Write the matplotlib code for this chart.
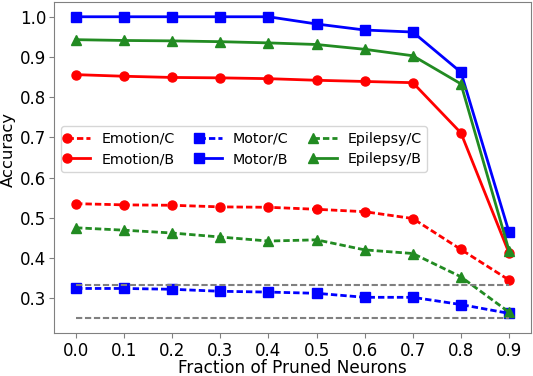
import matplotlib
matplotlib.use("Agg")
import matplotlib.pyplot as plt
from matplotlib.lines import Line2D
from matplotlib.legend_handler import HandlerLine2D

fractions = [0.0, 0.1, 0.2, 0.3, 0.4, 0.5, 0.6, 0.7, 0.8, 0.9]

emotion_c = [0.535, 0.532, 0.531, 0.527, 0.526, 0.521, 0.515, 0.498, 0.421, 0.345]
emotion_b = [0.856, 0.852, 0.849, 0.848, 0.846, 0.842, 0.839, 0.836, 0.711, 0.412]
motor_c = [0.324, 0.324, 0.322, 0.317, 0.315, 0.312, 0.302, 0.302, 0.284, 0.262]
motor_b = [1.0, 1.0, 1.0, 1.0, 1.0, 0.982, 0.967, 0.962, 0.862, 0.464]
epilepsy_c = [0.475, 0.469, 0.462, 0.452, 0.442, 0.445, 0.420, 0.411, 0.353, 0.265]
epilepsy_b = [0.943, 0.941, 0.940, 0.938, 0.935, 0.931, 0.919, 0.903, 0.833, 0.418]

chance_levels = [1 / 3, 0.25]


class LeftMarkerHandler(HandlerLine2D):
    def create_artists(self, legend, orig_handle, xdescent, ydescent,
                       width, height, fontsize, trans):
        artists = super().create_artists(legend, orig_handle, xdescent, ydescent,
                                         width, height, fontsize, trans)
        x0 = -xdescent
        for a in artists:
            if isinstance(a, Line2D) and a.get_marker() not in (None, 'None', '', ' '):
                xd = list(a.get_xdata())
                if len(xd) == 1:
                    a.set_xdata([x0])
                else:
                    a.set_markevery([0])
        return artists


fig = plt.figure(figsize=(5.33, 3.76), dpi=100)
ax = fig.add_axes([0.102, 0.1136, 0.8937, 0.8819])

dash = (0, (2.3, 1.1))
lw = 2.0
ms = 6.5

ax.plot(fractions, emotion_c, color='red', marker='o', linestyle=dash, lw=lw, ms=ms, label='Emotion/C')
ax.plot(fractions, emotion_b, color='red', marker='o', linestyle='-', lw=lw, ms=ms, label='Emotion/B')
ax.plot(fractions, motor_c, color='blue', marker='s', linestyle=dash, lw=lw, ms=ms, label='Motor/C')
ax.plot(fractions, motor_b, color='blue', marker='s', linestyle='-', lw=lw, ms=ms, label='Motor/B')
ax.plot(fractions, epilepsy_c, color='forestgreen', marker='^', linestyle=dash, lw=lw, ms=ms + 0.5, label='Epilepsy/C')
ax.plot(fractions, epilepsy_b, color='forestgreen', marker='^', linestyle='-', lw=lw, ms=ms + 0.5, label='Epilepsy/B')

for c in chance_levels:
    ax.plot([fractions[0], fractions[-1]], [c, c], color='gray', linestyle=(0, (3.0, 1.3)), lw=1.5)

ax.set_xticks(fractions)
ax.set_xticklabels([f"{f:.1f}" for f in fractions])
ax.tick_params(labelsize=12, color='gray', pad=2.5)
for s in ax.spines.values():
    s.set_color('gray')
ax.set_xlabel('Fraction of Pruned Neurons', fontsize=12.2)
ax.set_ylabel('Accuracy', fontsize=11.8)
ax.yaxis.set_label_coords(-0.080, 0.553)
ax.xaxis.set_label_coords(0.5, -0.0775)

handles, labels = ax.get_legend_handles_labels()
ax.legend(handles[:6], labels[:6], ncol=3, fontsize=10.3, loc='upper left',
          bbox_to_anchor=(0.0141, 0.6251), borderaxespad=0,
          handlelength=1.65, columnspacing=1.7, handletextpad=0.75,
          borderpad=0.4, labelspacing=0.45,
          handler_map={Line2D: LeftMarkerHandler()})

fig.savefig('out.png', dpi=100)
